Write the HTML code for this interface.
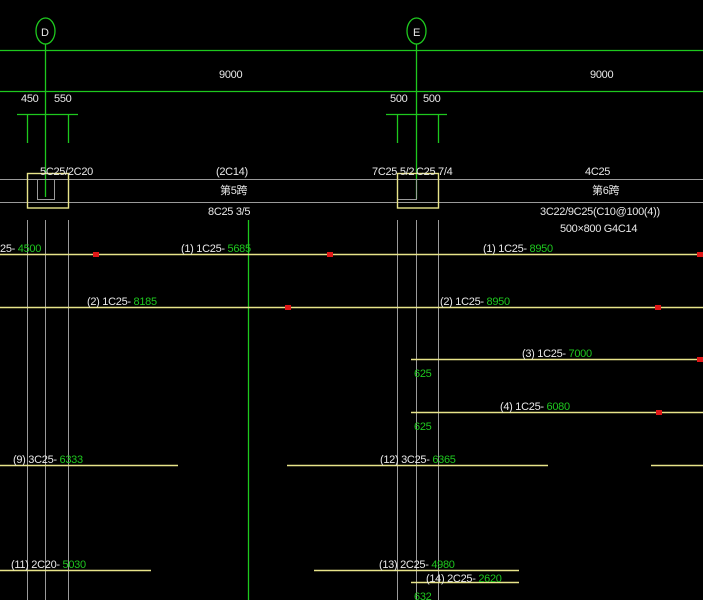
<!DOCTYPE html>
<html><head><meta charset="utf-8"><style>
html,body{margin:0;padding:0;background:#000;}
svg{display:block}
text{font-family:"Liberation Sans Narrow","Liberation Sans","Noto Sans CJK SC",sans-serif;font-size:11px;fill:#e8e8e8;letter-spacing:-0.3px}
.g{fill:#1ec81e}
</style></head><body>
<svg width="703" height="600" viewBox="0 0 703 600" xmlns="http://www.w3.org/2000/svg">
<rect width="703" height="600" fill="#000"/>
<!-- axis bubbles -->
<g stroke="#1ec81e" stroke-width="1.3" fill="none">
<ellipse cx="45.5" cy="31" rx="9.5" ry="13"/>
<ellipse cx="416.5" cy="31" rx="9.5" ry="13"/>
<line x1="0" y1="50.5" x2="703" y2="50.5"/>
<line x1="0" y1="91.5" x2="703" y2="91.5"/>
<line x1="45.5" y1="44" x2="45.5" y2="197"/>
<line x1="416.5" y1="44" x2="416.5" y2="199"/>
<line x1="17" y1="114.5" x2="78" y2="114.5"/>
<line x1="27.5" y1="114" x2="27.5" y2="143"/>
<line x1="68.5" y1="114" x2="68.5" y2="143"/>
<line x1="386" y1="114.5" x2="447" y2="114.5"/>
<line x1="397.5" y1="114" x2="397.5" y2="143"/>
<line x1="438.5" y1="114" x2="438.5" y2="143"/>
<line x1="248.5" y1="220" x2="248.5" y2="600"/>
</g>
<!-- gray -->
<g stroke="#9a9a9a" stroke-width="1" fill="none">
<line x1="0" y1="179.5" x2="703" y2="179.5"/>
<line x1="0" y1="202.5" x2="703" y2="202.5"/>
<line x1="27.5" y1="220" x2="27.5" y2="600"/>
<line x1="45.5" y1="220" x2="45.5" y2="600"/>
<line x1="68.5" y1="220" x2="68.5" y2="600"/>
<line x1="397.5" y1="220" x2="397.5" y2="600"/>
<line x1="416.5" y1="220" x2="416.5" y2="600"/>
<line x1="438.5" y1="220" x2="438.5" y2="600"/>
<polyline points="37.5,180 37.5,199.5 54.5,199.5 54.5,180"/>
<polyline points="397,199.5 416.5,199.5 416.5,180"/>
</g>
<!-- yellow -->
<g stroke="#e8e48a" stroke-width="1.4" fill="none">
<rect x="27.5" y="173.5" width="41" height="34.5"/>
<rect x="397.5" y="173.5" width="41" height="34.5"/>
<line x1="0" y1="254.5" x2="703" y2="254.5"/>
<line x1="0" y1="307.5" x2="703" y2="307.5"/>
<line x1="411" y1="359.5" x2="703" y2="359.5"/>
<line x1="411" y1="412.5" x2="703" y2="412.5"/>
<line x1="0" y1="465.5" x2="178" y2="465.5"/>
<line x1="287" y1="465.5" x2="548" y2="465.5"/>
<line x1="651" y1="465.5" x2="703" y2="465.5"/>
<line x1="0" y1="570.5" x2="151" y2="570.5"/>
<line x1="314" y1="570.5" x2="519" y2="570.5"/>
<line x1="411" y1="582.5" x2="519" y2="582.5"/>
</g>
<g fill="#e01818">
<rect x="93" y="252" width="6" height="5"/><rect x="327" y="252" width="6" height="5"/><rect x="697" y="252" width="6" height="5"/>
<rect x="285" y="305" width="6" height="5"/><rect x="655" y="305" width="6" height="5"/>
<rect x="697" y="357" width="6" height="5"/>
<rect x="656" y="410" width="6" height="5"/>
</g>
<!-- texts -->
<text x="41" y="36">D</text>
<text x="413" y="36">E</text>
<text x="219" y="78">9000</text>
<text x="590" y="78">9000</text>
<text x="21" y="102">450</text>
<text x="54" y="102">550</text>
<text x="390" y="102">500</text>
<text x="423" y="102">500</text>
<text x="40" y="175">5C25/2C20</text>
<text x="216" y="175">(2C14)</text>
<text x="220" y="194">第5跨</text>
<text x="208" y="215">8C25 3/5</text>
<text x="372" y="175">7C25 5/2</text>
<text x="416" y="175">C25 7/4</text>
<text x="585" y="175">4C25</text>
<text x="592" y="194">第6跨</text>
<text x="540" y="215">3C22/9C25(C10@100(4))</text>
<text x="560" y="232">500×800 G4C14</text>
<text x="0" y="252">25- <tspan class="g">4500</tspan></text>
<text x="181" y="252">(1) 1C25- <tspan class="g">5685</tspan></text>
<text x="483" y="252">(1) 1C25- <tspan class="g">8950</tspan></text>
<text x="87" y="305">(2) 1C25- <tspan class="g">8185</tspan></text>
<text x="440" y="305">(2) 1C25- <tspan class="g">8950</tspan></text>
<text x="522" y="357">(3) 1C25- <tspan class="g">7000</tspan></text>
<text x="414" y="377" class="g">625</text>
<text x="500" y="410">(4) 1C25- <tspan class="g">6080</tspan></text>
<text x="414" y="430" class="g">625</text>
<text x="13" y="463">(9) 3C25- <tspan class="g">6333</tspan></text>
<text x="380" y="463">(12) 3C25- <tspan class="g">6365</tspan></text>
<text x="11" y="568">(11) 2C20- <tspan class="g">5030</tspan></text>
<text x="379" y="568">(13) 2C25- <tspan class="g">4980</tspan></text>
<text x="426" y="582">(14) 2C25- <tspan class="g">2620</tspan></text>
<text x="414" y="600" class="g">632</text>
</svg>
</body></html>
